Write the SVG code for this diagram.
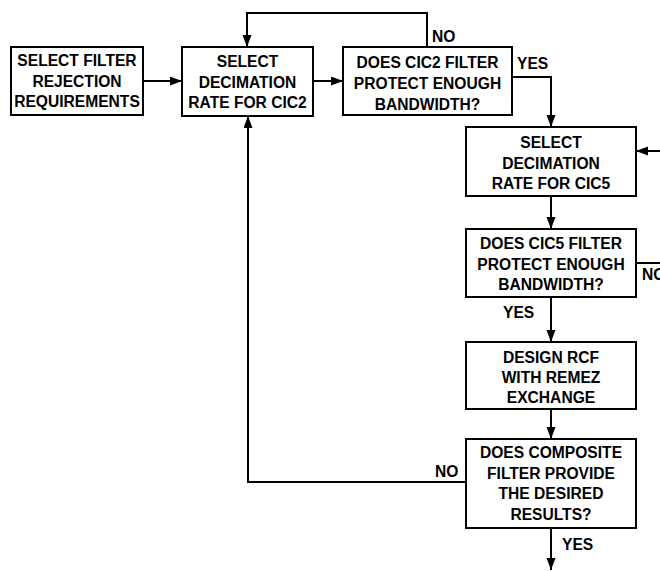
<svg xmlns="http://www.w3.org/2000/svg" width="660" height="571" viewBox="0 0 660 571">
<style>
.box{fill:#fff;stroke:#000;stroke-width:2}
.ln{fill:none;stroke:#000;stroke-width:2}
text{font-family:"Liberation Sans",Arial,Helvetica,sans-serif;font-weight:bold;font-size:15.6px;fill:#000}
.c{text-anchor:middle}
</style>
<defs>
<marker id="ah" markerUnits="userSpaceOnUse" markerWidth="13" markerHeight="10" refX="12" refY="4.5" orient="auto">
<path d="M0,0 L12,4.5 L0,9 z" fill="#000"/>
</marker>
</defs>
<g id="connectors">
<path class="ln" d="M143,81 H182" marker-end="url(#ah)"/>
<path class="ln" d="M313,81 H343" marker-end="url(#ah)"/>
<path class="ln" d="M427,47 V13 H247 V47" marker-end="url(#ah)"/>
<path class="ln" d="M512,77 H551 V127" marker-end="url(#ah)"/>
<path class="ln" d="M660,151 H636" marker-end="url(#ah)"/>
<path class="ln" d="M551,196 V229" marker-end="url(#ah)"/>
<path class="ln" d="M636,263 H660"/>
<path class="ln" d="M551,297 V342" marker-end="url(#ah)"/>
<path class="ln" d="M551,409 V439" marker-end="url(#ah)"/>
<path class="ln" d="M466,482 H248 V116" marker-end="url(#ah)"/>
<path class="ln" d="M551,528 V570" marker-end="url(#ah)"/>
<text x="432" y="42">NO</text>
<text x="517" y="69">YES</text>
<text x="642" y="280">NO</text>
<text x="503" y="318">YES</text>
<text x="435" y="477">NO</text>
<text x="562" y="550">YES</text>
</g>
<g id="n1">
<rect class="box" x="11" y="47" width="132" height="68"/>
<text class="c" x="77" y="66">SELECT FILTER</text>
<text class="c" x="77" y="86.5">REJECTION</text>
<text class="c" x="77" y="107">REQUIREMENTS</text>
</g>
<g id="n2">
<rect class="box" x="182" y="47" width="131" height="69"/>
<text class="c" x="247.5" y="67">SELECT</text>
<text class="c" x="247.5" y="87.5">DECIMATION</text>
<text class="c" x="247.5" y="108">RATE FOR CIC2</text>
</g>
<g id="n3">
<rect class="box" x="343" y="47" width="169" height="68"/>
<text class="c" x="427.5" y="68">DOES CIC2 FILTER</text>
<text class="c" x="427.5" y="89">PROTECT ENOUGH</text>
<text class="c" x="427.5" y="109.5">BANDWIDTH?</text>
</g>
<g id="n4">
<rect class="box" x="466" y="127" width="170" height="69"/>
<text class="c" x="551" y="148">SELECT</text>
<text class="c" x="551" y="168.5">DECIMATION</text>
<text class="c" x="551" y="189">RATE FOR CIC5</text>
</g>
<g id="n5">
<rect class="box" x="466" y="229" width="170" height="68"/>
<text class="c" x="551" y="249">DOES CIC5 FILTER</text>
<text class="c" x="551" y="270">PROTECT ENOUGH</text>
<text class="c" x="551" y="290">BANDWIDTH?</text>
</g>
<g id="n6">
<rect class="box" x="466" y="342" width="170" height="67"/>
<text class="c" x="551" y="363">DESIGN RCF</text>
<text class="c" x="551" y="383">WITH REMEZ</text>
<text class="c" x="551" y="403">EXCHANGE</text>
</g>
<g id="n7">
<rect class="box" x="466" y="439" width="170" height="89"/>
<text class="c" x="551" y="458">DOES COMPOSITE</text>
<text class="c" x="551" y="479">FILTER PROVIDE</text>
<text class="c" x="551" y="499">THE DESIRED</text>
<text class="c" x="551" y="520">RESULTS?</text>
</g>
</svg>
